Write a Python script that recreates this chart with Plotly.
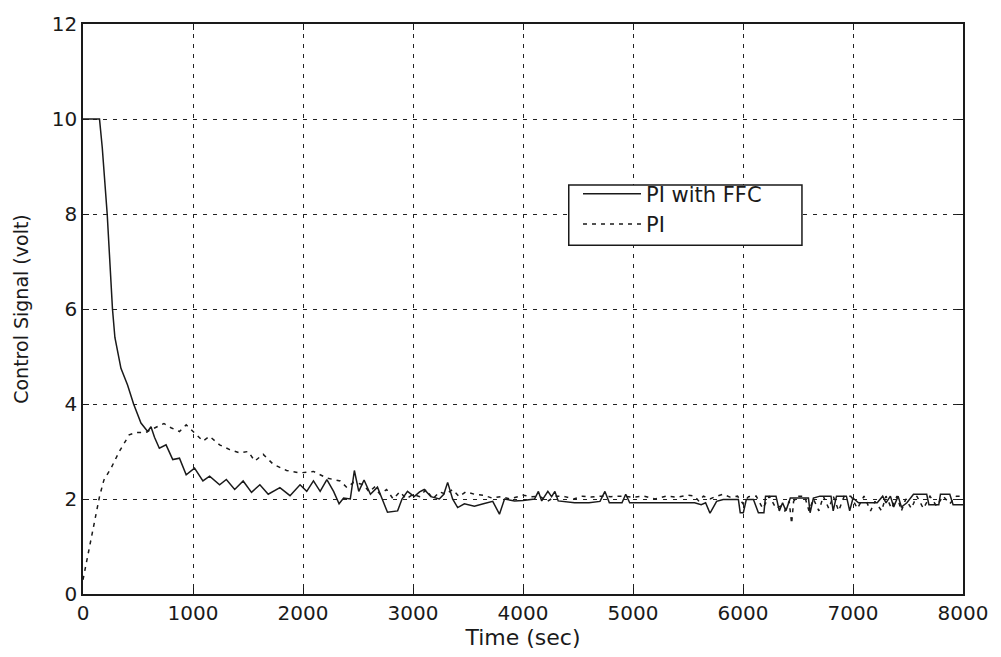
import plotly.graph_objects as go

# PI with FFC (solid)
t_ffc = [0,150,175,220,268,290,345,405,460,527,588,618,650,694,755,816,877,938,1014,1090,
         1151,1242,1303,1379,1456,1532,1608,1684,1790,1882,1973,2034,2095,2156,2217,2278,2328,2369,2430,2467,
         2507,2555,2613,2677,2720,2768,2860,2900,2950,3011,3060,3102,3163,3239,3280,3315,3360,3406,3467,3558,
         3640,3725,3786,3832,3923,4000,4105,4140,4170,4226,4260,4290,4320,4360,4469,4600,4700,4745,4785,4900,
         4934,4970,5100,5300,5510,5560,5620,5660,5700,5760,5820,5900,5958,5975,6003,6030,6095,6140,6190,6205,
         6300,6330,6360,6390,6430,6490,6595,6610,6640,6700,6800,6820,6850,6940,6970,7000,7050,7220,7270,7300,
         7340,7370,7410,7440,7490,7550,7670,7690,7780,7795,7880,7910,8000]
v_ffc = [10.0,10.0,9.4,8.0,6.0,5.4,4.75,4.4,4.0,3.6,3.42,3.52,3.3,3.07,3.14,2.83,2.86,2.51,2.65,2.38,
         2.48,2.3,2.41,2.2,2.38,2.14,2.3,2.1,2.24,2.07,2.3,2.16,2.38,2.16,2.41,2.16,1.9,2.02,2.0,2.6,
         2.16,2.4,2.1,2.25,2.0,1.72,1.75,2.0,2.16,2.05,2.15,2.2,2.05,2.0,2.1,2.35,2.0,1.82,1.9,1.85,
         1.9,1.95,1.68,2.0,1.96,1.97,2.0,2.16,1.96,2.16,2.05,2.16,1.96,1.95,1.92,1.92,1.95,2.16,1.92,1.92,
         2.1,1.92,1.92,1.92,1.92,1.92,1.88,1.92,1.7,1.95,1.99,1.99,1.99,1.71,1.71,1.99,1.99,1.71,1.71,2.06,
         2.06,1.75,1.92,1.75,2.02,2.02,2.02,1.71,2.02,2.06,2.06,1.75,2.06,2.06,1.75,2.02,1.92,1.92,2.06,1.92,
         2.06,1.83,2.06,1.83,1.92,2.1,2.1,1.88,1.88,2.1,2.1,1.88,1.88]

# PI (dashed)
t_pi = [0,50,100,150,190,255,330,420,480,570,610,660,736,800,877,938,999,1090,1151,1242,
        1334,1425,1501,1562,1638,1730,1851,1973,2095,2217,2339,2400,2460,2552,2600,2650,2700,2760,2820,2880,
        2940,3000,3060,3120,3180,3240,3300,3360,3420,3480,3560,3640,3720,3800,3880,3950,4000,4080,4150,4220,
        4300,4380,4460,4540,4620,4700,4800,4900,5000,5100,5200,5300,5400,5500,5560,5600,5640,5700,5760,5820,
        5880,5950,6000,6050,6120,6180,6240,6300,6340,6380,6420,6442,6460,6500,6560,6600,6640,6690,6730,6780,
        6820,6870,6920,6980,7040,7100,7160,7200,7260,7300,7350,7400,7440,7480,7530,7580,7640,7700,7760,7820,
        7880,7940,8000]
v_pi = [0.3,0.9,1.5,2.05,2.4,2.65,3.0,3.35,3.4,3.4,3.45,3.5,3.59,3.5,3.42,3.56,3.42,3.22,3.32,3.14,
        3.04,2.97,3.0,2.8,2.94,2.73,2.6,2.55,2.58,2.44,2.38,2.24,2.35,2.3,2.15,2.25,2.1,2.2,2.0,2.15,
        2.0,2.1,2.05,2.2,2.0,2.15,2.1,2.2,2.05,2.15,2.1,2.08,2.02,2.05,2.0,2.05,2.08,2.05,2.06,1.95,
        2.06,2.05,2.0,2.06,2.04,2.06,2.05,2.06,2.04,2.06,2.0,2.06,2.04,2.08,2.06,1.95,2.06,2.0,2.06,2.1,
        2.04,2.06,1.9,2.05,2.06,1.8,2.06,1.8,1.85,1.75,1.95,1.48,1.95,2.06,2.06,1.75,2.0,1.75,2.06,1.8,
        2.06,1.75,2.06,2.06,1.8,2.06,1.75,1.95,1.75,2.06,1.8,2.06,1.75,2.0,1.8,2.06,1.8,2.06,1.85,2.06,
        1.9,2.06,2.06]

x_ticks = [0,1000,2000,3000,4000,5000,6000,7000,8000]
x_labels = ["0","1000","2000","3000","4000","5000","6000","7000","8000"]
y_ticks = [0,2,4,6,8,10,12]
y_labels = ["0","2","4","6","8","10","12"]

FONT = "DejaVu Sans, Verdana, sans-serif"
INK = "#1a1a1a"

fig = go.Figure()
fig.add_trace(go.Scatter(x=t_ffc, y=v_ffc, mode="lines", name="PI with FFC",
                         line=dict(color=INK, width=1.5)))
fig.add_trace(go.Scatter(x=t_pi, y=v_pi, mode="lines", name="PI",
                         line=dict(color=INK, width=1.5, dash="4px,5px")))

axis_common = dict(
    showgrid=True, gridcolor="#222", gridwidth=1, griddash="4px,6px",
    showline=True, linecolor=INK, linewidth=1.5, mirror="ticks",
    ticks="inside", ticklen=6, tickcolor=INK, tickwidth=1,
    zeroline=False, tickfont=dict(family=FONT, size=20, color=INK),
)

fig.update_xaxes(range=[0, 8000], tickvals=x_ticks, ticktext=x_labels,
                 title=dict(text="Time (sec)", font=dict(family=FONT, size=22, color=INK), standoff=2),
                 **axis_common)
fig.update_yaxes(range=[0, 12], tickvals=y_ticks, ticktext=y_labels,
                 title=dict(text="Control Signal (volt)", font=dict(family=FONT, size=19, color=INK), standoff=18),
                 **axis_common)

# legend frame (box behind the legend entries)
fig.add_shape(type="rect", xref="paper", yref="paper",
              x0=0.552, x1=0.817, y0=0.612, y1=0.7175,
              fillcolor="white", line=dict(color=INK, width=1.5), layer="above")

fig.update_layout(
    width=1001, height=657,
    margin=dict(l=83, r=38, t=17, b=63),
    plot_bgcolor="white", paper_bgcolor="white",
    showlegend=True,
    legend=dict(x=0.5625, y=0.7375, xanchor="left", yanchor="top",
                bgcolor="rgba(0,0,0,0)", borderwidth=0,
                font=dict(family=FONT, size=21, color=INK),
                tracegroupgap=0, itemwidth=58),
)

fig.write_html("out.html")
